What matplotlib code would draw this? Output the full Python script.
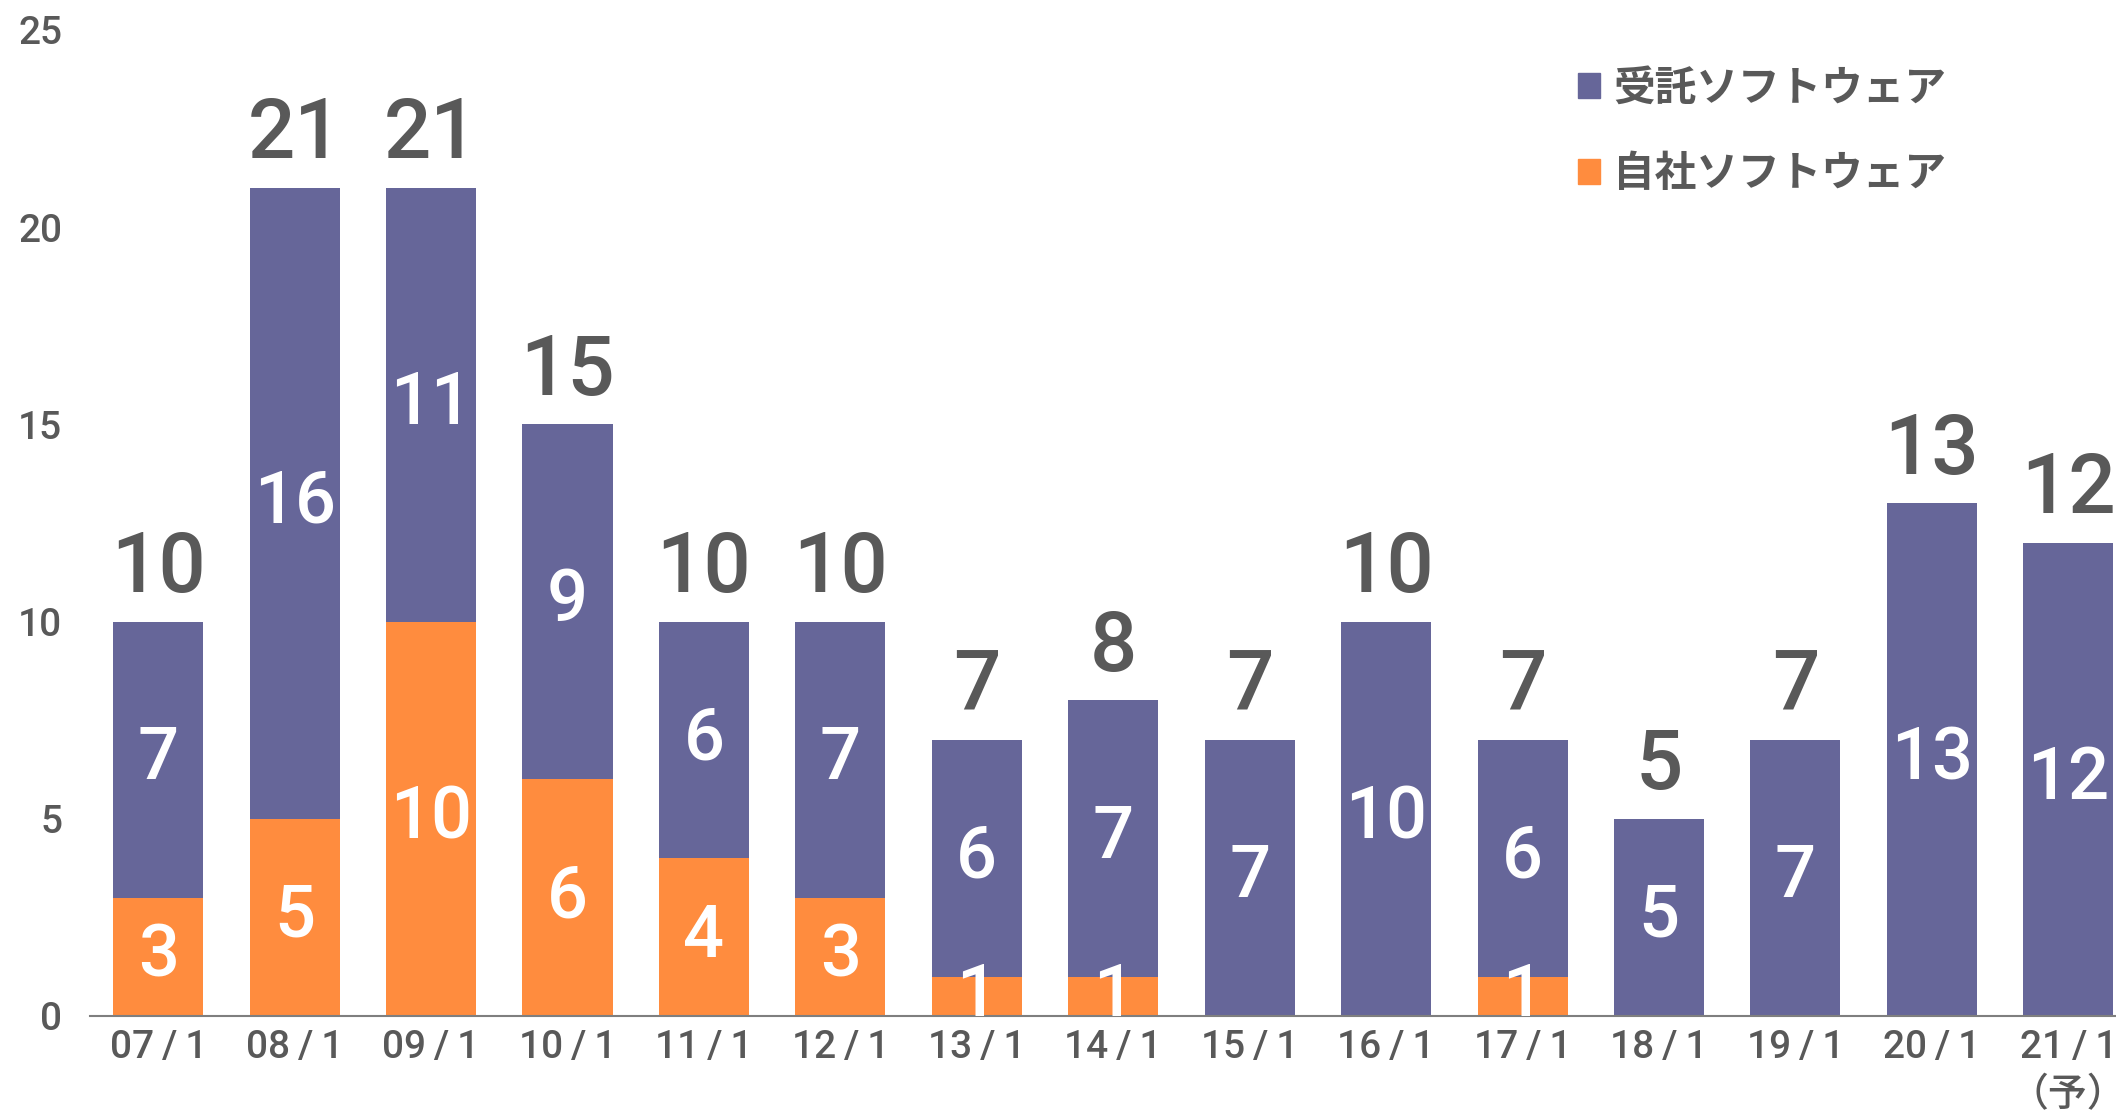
import matplotlib
matplotlib.use("Agg")
import matplotlib.pyplot as plt
from matplotlib.patches import Patch
import numpy as np

plt.rcParams['font.family'] = ['Roboto', 'Noto Sans CJK JP', 'DejaVu Sans']

# data
labels = ['07/1', '08/1', '09/1', '10/1', '11/1', '12/1', '13/1', '14/1',
          '15/1', '16/1', '17/1', '18/1', '19/1', '20/1', '21/1\n（予）']
own = [3, 5, 10, 6, 4, 3, 1, 1, 0, 0, 1, 0, 0, 0, 0]        # 自社ソフトウェア
contract = [7, 16, 11, 9, 6, 7, 6, 7, 7, 10, 6, 5, 7, 13, 12]  # 受託ソフトウェア
series_names = ['受託ソフトウェア', '自社ソフトウェア']

purple = '#666699'
orange = '#FF8C3E'
gray = '#595959'

fig = plt.figure(figsize=(21.16, 11.17), dpi=100)
ax = fig.add_axes([90 / 2116, 101 / 1117, 1 - 90 / 2116, 986 / 1117])

x = np.arange(len(labels))
w = 0.66
ax.bar(x, own, w, color=orange, zorder=2)
ax.bar(x, contract, w, bottom=own, color=purple, zorder=2)

# segment labels + totals
for xi, o, c in zip(x, own, contract):
    if o > 0:
        ax.text(xi, o / 2, str(o), ha='center', va='center', color='white',
                fontsize=52, fontweight='medium')
    if c > 0:
        ax.text(xi, o + c / 2, str(c), ha='center', va='center', color='white',
                fontsize=52, fontweight='medium')
    ax.annotate(str(o + c), (xi, o + c), xytext=(0, 9), textcoords='offset points',
                ha='center', va='bottom', color=gray, fontsize=60, fontweight='medium')

ax.set_xlim(-0.5, 14.35)
ax.set_ylim(0, 25)
ax.set_yticks([0, 5, 10, 15, 20, 25])
ax.set_xticks(x)
# the original spaces the slash a little
ax.set_xticklabels([l.replace('/', '\u2009/\u2009') for l in labels], linespacing=1.4)
ax.tick_params(axis='x', length=0, pad=9, labelsize=28, labelcolor=gray)
ax.tick_params(axis='y', length=0, pad=20, labelsize=28, labelcolor=gray)
for t in ax.get_xticklabels() + ax.get_yticklabels():
    t.set_fontweight('medium')
for s in ['top', 'right', 'left']:
    ax.spines[s].set_visible(False)
ax.spines['bottom'].set_color('#7f7f7f')
ax.spines['bottom'].set_linewidth(1.5)

handles = [Patch(color=purple), Patch(color=orange)]
ax.legend(handles, series_names, loc='upper left', bbox_to_anchor=(1540 / 2116, 1 - 30 / 1117),
          bbox_transform=fig.transFigure, frameon=False,
          handlelength=0.55, handleheight=0.55, handletextpad=0.3, labelspacing=1.05,
          labelcolor=gray, prop={'family': 'Noto Sans CJK JP', 'weight': 'bold', 'size': 30})

fig.savefig('out.png', dpi=100)
